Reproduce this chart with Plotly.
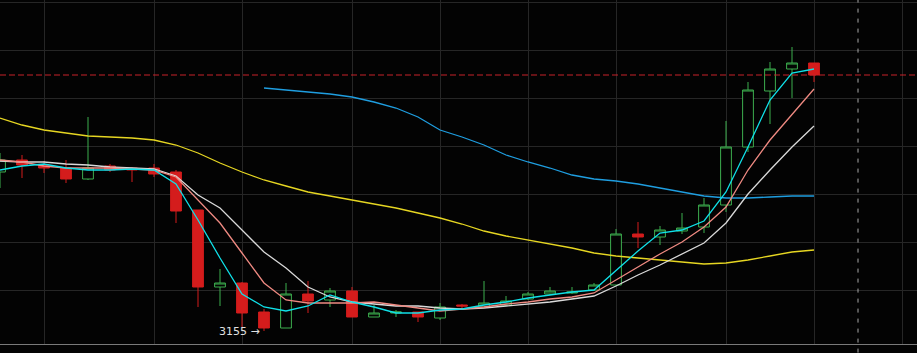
import plotly.graph_objects as go

# ---- data ----
idx = list(range(38))
open_ = [3314, 3326, 3321, 3318, 3307, 3320, 3318, 3318, 3314, 3276,
         3199, 3203, 3174, 3158, 3192, 3186, 3195, 3169, 3173, 3174,
         3168, 3181, 3179, 3181, 3187, 3192, 3193, 3196, 3201, 3252,
         3249, 3255, 3259, 3281, 3339, 3395, 3417, 3423]
high = [3333, 3331, 3325, 3326, 3369, 3322, 3319, 3322, 3316, 3276,
        3217, 3204, 3177, 3203, 3205, 3198, 3199, 3181, 3176, 3174,
        3183, 3182, 3205, 3190, 3194, 3199, 3199, 3203, 3257, 3264,
        3260, 3273, 3288, 3365, 3404, 3424, 3439, 3423]
low = [3298, 3308, 3313, 3303, 3306, 3314, 3304, 3309, 3263, 3179,
       3180, 3159, 3155, 3158, 3173, 3179, 3169, 3169, 3169, 3164,
       3166, 3176, 3179, 3181, 3186, 3191, 3192, 3195, 3200, 3238,
       3241, 3252, 3253, 3274, 3334, 3362, 3388, 3404]
close = [3326, 3321, 3318, 3307, 3318, 3316, 3316, 3312, 3275, 3199,
         3203, 3173, 3158, 3192, 3185, 3195, 3169, 3173, 3174, 3169,
         3179, 3180, 3183, 3185, 3192, 3195, 3194, 3201, 3252, 3249,
         3256, 3258, 3281, 3339, 3396, 3417, 3423, 3411]

ma_cyan = [3316, 3320, 3322, 3318, 3316, 3316, 3317, 3316, 3302, 3266,
           3228, 3192, 3179, 3175, 3180, 3191, 3184, 3179, 3173, 3173,
           3176, 3177, 3181, 3184, 3188, 3191, 3194, 3196, 3216, 3235,
           3253, 3256, 3265, 3294, 3339, 3386, 3413, 3417]
ma_salmon = [3326, 3324, 3320, 3318, 3318, 3318, 3317, 3316, 3309, 3286,
             3263, 3233, 3203, 3186, 3183, 3183, 3183, 3184, 3181, 3178,
             3175, 3177, 3179, 3182, 3184, 3187, 3189, 3193, 3206, 3219,
             3232, 3244, 3259, 3279, 3316, 3346, 3371, 3397]
ma_white = [3325, 3324, 3324, 3322, 3321, 3319, 3318, 3317, 3310, 3291,
            3278, 3256, 3234, 3218, 3199, 3189, 3184, 3182, 3180, 3180,
            3178, 3177, 3178, 3180, 3182, 3184, 3187, 3190, 3200, 3211,
            3221, 3232, 3243, 3263, 3292, 3316, 3339, 3360]
blue_start = 12
ma_blue = [3398, 3396, 3394, 3392, 3389, 3384, 3378, 3369, 3356, 3349,
           3341, 3331, 3324, 3318, 3311, 3307, 3305, 3302, 3298, 3294,
           3290, 3288, 3288, 3289, 3290, 3290]
ma_yellow = [3368, 3361, 3356, 3353, 3350, 3349, 3348, 3346, 3341, 3333,
             3323, 3314, 3306, 3300, 3294, 3290, 3286, 3282, 3278, 3273,
             3268, 3262, 3255, 3250, 3246, 3242, 3238, 3233, 3230, 3228,
             3226, 3224, 3222, 3223, 3226, 3230, 3234, 3236]

x_grid = [2, 7, 11, 16, 20, 24, 28, 33, 37, 41]
y_grid = [3196, 3244, 3292, 3340, 3388, 3436, 3484]
low_label = "3155 →"
low_idx = 12
last_price = close[-1]
future_marker = 39

GREEN = "#3daf4f"
RED = "#d41c1c"

fig = go.Figure()
fig.add_trace(go.Candlestick(
    x=idx, open=open_, high=high, low=low, close=close,
    increasing=dict(line=dict(color=GREEN, width=1), fillcolor="#030303"),
    decreasing=dict(line=dict(color=RED, width=1), fillcolor=RED),
    showlegend=False, hoverinfo="skip"))

def add_line(xs, ys, color, w=1.3):
    fig.add_trace(go.Scatter(x=xs, y=ys, mode="lines",
                             line=dict(color=color, width=w),
                             showlegend=False, hoverinfo="skip"))

add_line(idx, ma_yellow, "#e6d622")
add_line(idx[blue_start:], ma_blue, "#1f9ee0")
add_line(idx, ma_white, "#d9d9d9")
add_line(idx, ma_salmon, "#ef8a82")
add_line(idx, ma_cyan, "#10e0e8")

# current-price dashed line
fig.add_shape(type="line", xref="paper", x0=0, x1=1, yref="y",
              y0=last_price, y1=last_price,
              line=dict(color="#c8232a", width=1, dash="6px,3px"))
# vertical dashed marker
fig.add_shape(type="line", xref="x", x0=future_marker, x1=future_marker,
              yref="paper", y0=-0.025, y1=1,
              line=dict(color="#a8a8a8", width=1, dash="4px,6px"))

fig.add_annotation(x=low_idx, y=min(low), text=low_label, showarrow=False,
                   xanchor="right", yanchor="middle", xshift=-2,
                   font=dict(size=11, color="#e0e0e0",
                             family="DejaVu Sans, sans-serif"))

W, H = 917, 353
px_per_idx = 22
fig.update_layout(
    width=W, height=H,
    margin=dict(l=0, r=0, t=0, b=9),
    paper_bgcolor="#030303", plot_bgcolor="#030303",
    xaxis=dict(range=[0, W / px_per_idx], tickvals=x_grid, showticklabels=False,
               showgrid=True, gridcolor="#262626", gridwidth=1, zeroline=False,
               showline=True, linecolor="#7a7a7a", linewidth=1,
               rangeslider=dict(visible=False), fixedrange=True),
    yaxis=dict(range=[3142, 3486], tickvals=y_grid, showticklabels=False,
               showgrid=True, gridcolor="#262626", gridwidth=1, zeroline=False,
               showline=False, fixedrange=True),
)

fig.write_html("out.html")
